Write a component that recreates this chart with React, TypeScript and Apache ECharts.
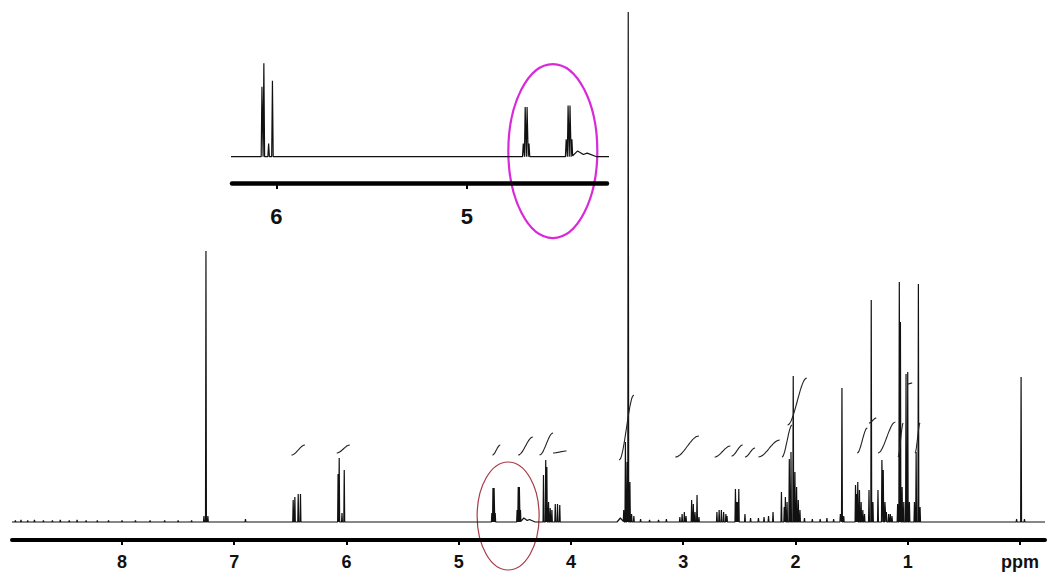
import React, { useEffect, useRef } from "react";
import * as echarts from "echarts";

// Chemical-shift ticks (ppm) for the full spectrum and the expanded inset
const mainTicks = [0, 1, 2, 3, 4, 5, 6, 7, 8];
const insetTicks = [5, 6];

// Peak lists: [shift in ppm, intensity, optional half-width in ppm]
type Peak = [number, number, number?];

const baselineNoise: Peak[] = [
  [8.95, 1.5], [8.9, 2], [8.84, 1.5], [8.78, 2], [8.7, 1.5], [8.62, 1.5],
  [8.55, 2], [8.47, 1.5], [8.4, 2], [8.32, 1.5], [8.22, 1.5], [8.12, 1.5],
  [8.0, 1.5], [7.88, 1.5], [7.75, 1.5], [7.62, 1.5], [7.5, 1.5], [7.38, 1.5],
];

const solventPeaks: Peak[] = [
  [7.27, 6], [7.252, 271], [7.235, 6], [6.9, 3],
];

const olefinicPeaks: Peak[] = [
  [6.475, 22], [6.46, 25], [6.43, 28], [6.41, 28],
  [6.075, 48], [6.065, 64], [6.04, 9], [6.02, 52],
];

const oxymethinePeaks: Peak[] = [
  [4.705, 9], [4.695, 34], [4.685, 34], [4.675, 9],
  [4.48, 12], [4.47, 35], [4.46, 35], [4.45, 12],
  [4.42, 4, 0.03], [4.37, 2.5, 0.05],
  [4.245, 47], [4.225, 62], [4.215, 55], [4.2, 20], [4.185, 14], [4.17, 12],
  [4.14, 18], [4.12, 18], [4.1, 17],
];

const methoxyPeaks: Peak[] = [
  [3.56, 4, 0.03], [3.53, 12], [3.515, 80], [3.5, 60], [3.49, 510],
  [3.475, 40], [3.46, 8], [3.44, 6],
  [3.38, 3], [3.3, 2], [3.22, 2], [3.15, 3],
];

const allylicPeaks: Peak[] = [
  [3.03, 5], [3.01, 8], [2.99, 10], [2.975, 6], [2.925, 22], [2.91, 18],
  [2.895, 10], [2.877, 27], [2.86, 5],
  [2.7, 10], [2.68, 12], [2.66, 12], [2.64, 10], [2.62, 8], [2.61, 6],
  [2.535, 33], [2.525, 20], [2.515, 20], [2.505, 33],
  [2.45, 8], [2.4, 4], [2.33, 4], [2.28, 5], [2.24, 6], [2.2, 10],
  [2.125, 30], [2.1, 15], [2.09, 25], [2.075, 20], [2.055, 63], [2.04, 70],
  [2.02, 146], [2.005, 50], [1.99, 35], [1.975, 22], [1.96, 12],
  [1.92, 4], [1.85, 3], [1.78, 3], [1.72, 4], [1.66, 3],
];

const aliphaticPeaks: Peak[] = [
  [1.6, 8], [1.586, 134], [1.57, 6],
  [1.465, 37], [1.455, 28], [1.445, 40], [1.43, 32], [1.415, 20], [1.4, 12], [1.385, 8],
  [1.345, 32], [1.325, 222], [1.31, 20],
  [1.265, 32], [1.23, 62], [1.218, 52], [1.203, 20], [1.19, 10], [1.17, 8],
  [1.155, 8], [1.14, 6],
  [1.09, 18], [1.075, 240], [1.065, 200], [1.05, 35], [1.035, 20],
  [1.015, 148], [1.0, 150], [0.985, 20],
  [0.94, 20], [0.925, 70], [0.905, 238], [0.89, 15],
];

const referencePeaks: Peak[] = [
  [0.03, 3], [-0.01, 145], [-0.04, 3],
];

// Integral traces: [from ppm, to ppm, start level, end level]
const integrals: [number, number, number, number][] = [
  [6.49, 6.37, 67, 77],
  [6.087, 5.97, 69, 77],
  [4.7, 4.63, 67, 77],
  [4.47, 4.34, 67, 85],
  [4.28, 4.16, 67, 89],
  [4.16, 4.04, 69, 71],
  [3.57, 3.44, 62, 127],
  [3.07, 2.86, 65, 86],
  [2.72, 2.58, 65, 76],
  [2.57, 2.47, 66, 77],
  [2.45, 2.36, 65, 74],
  [2.33, 2.14, 65, 82],
  [2.12, 2.03, 65, 97],
  [2.07, 1.9, 97, 144],
  [1.45, 1.36, 69, 94],
  [1.345, 1.28, 99, 104],
  [1.265, 1.11, 69, 100],
  [1.087, 1.04, 65, 99],
  [1.0, 0.96, 138, 139],
  [0.935, 0.89, 69, 99],
];

// Annotation ellipses centred on [ppm, level]
const mainMarkCentre: [number, number] = [4.56, 6];
const insetMarkCentre: [number, number] = [4.55, 3.9];

const DEFAULT_HW = 0.004;

const allPeaks: Peak[] = [
  ...baselineNoise,
  ...solventPeaks,
  ...olefinicPeaks,
  ...oxymethinePeaks,
  ...methoxyPeaks,
  ...allylicPeaks,
  ...aliphaticPeaks,
  ...referencePeaks,
];

// Sum of narrow triangular line shapes, evaluated at every breakpoint
function buildTrace(peaks: Peak[], lo: number, hi: number): [number, number][] {
  const xs = new Set<number>([lo, hi]);
  for (const [p, , w = DEFAULT_HW] of peaks) {
    xs.add(+(p - w).toFixed(5));
    xs.add(+p.toFixed(5));
    xs.add(+(p + w).toFixed(5));
  }
  const sorted = [...xs].filter((x) => x >= lo && x <= hi).sort((a, b) => a - b);
  return sorted.map((x) => {
    let y = 0;
    for (const [p, h, w = DEFAULT_HW] of peaks) {
      const d = Math.abs(x - p);
      if (d < w) y += h * (1 - d / w);
    }
    return [x, +y.toFixed(3)];
  });
}

// S-shaped running integral between two levels
function integralCurve([from, to, a, b]: [number, number, number, number]): [number, number][] {
  const steps = [0, 0.1, 0.2, 0.3, 0.4, 0.5, 0.6, 0.7, 0.8, 0.9, 1];
  return steps.map((t) => {
    const s = t * t * (3 - 2 * t);
    return [from + (to - from) * t, a + (b - a) * s];
  });
}

const FONT = "'Liberation Sans', Arial, sans-serif";

export default function App() {
  const ref = useRef<HTMLDivElement>(null);

  useEffect(() => {
    if (!ref.current) return;
    const chart = echarts.init(ref.current, null, { renderer: "svg" });

    const mainTrace = buildTrace(allPeaks, -0.223, 8.98);
    const insetTrace = buildTrace(allPeaks, 4.2, 6.3);

    const integralSeries = integrals.map((seg) => ({
      type: "line" as const,
      xAxisIndex: 0,
      yAxisIndex: 0,
      data: integralCurve(seg),
      showSymbol: false,
      smooth: true,
      silent: true,
      lineStyle: { color: "#222", width: 1.1 },
    }));

    chart.setOption({
      animation: false,
      backgroundColor: "#ffffff",
      grid: [
        { left: 12, right: 2, top: 10, bottom: 35 },
        { left: 232, right: 440, top: 63, bottom: 392 },
      ],
      xAxis: [
        {
          type: "value",
          gridIndex: 0,
          inverse: true,
          min: -0.223,
          max: 8.98,
          axisLine: { show: true, onZero: false, lineStyle: { color: "#000", width: 4 } },
          axisTick: {
            show: true,
            customValues: mainTicks,
            length: 5,
            lineStyle: { color: "#000", width: 2 },
          },
          axisLabel: {
            customValues: mainTicks,
            formatter: (v: number) => (v === 0 ? "ppm" : String(v)),
            fontFamily: FONT,
            fontWeight: "bold",
            fontSize: 18,
            color: "#111",
            margin: 13,
          },
          splitLine: { show: false },
        },
        {
          type: "value",
          gridIndex: 1,
          inverse: true,
          min: 4.266,
          max: 6.232,
          axisLine: { show: true, onZero: false, lineStyle: { color: "#000", width: 4.5 } },
          axisTick: {
            show: true,
            customValues: insetTicks,
            length: 6,
            lineStyle: { color: "#000", width: 2 },
          },
          axisLabel: {
            customValues: insetTicks,
            fontFamily: FONT,
            fontWeight: "bold",
            fontSize: 22,
            color: "#111",
            margin: 22,
          },
          splitLine: { show: false },
        },
      ],
      yAxis: [
        { type: "value", gridIndex: 0, min: -18, max: 512, show: false, splitLine: { show: false } },
        { type: "value", gridIndex: 1, min: -18, max: 64.2, show: false, splitLine: { show: false } },
      ],
      series: [
        {
          type: "line",
          xAxisIndex: 0,
          yAxisIndex: 0,
          data: mainTrace,
          showSymbol: false,
          silent: true,
          lineStyle: { color: "#111", width: 1.2 },
        },
        {
          type: "line",
          xAxisIndex: 1,
          yAxisIndex: 1,
          data: insetTrace,
          showSymbol: false,
          silent: true,
          clip: true,
          lineStyle: { color: "#111", width: 1.2 },
        },
        ...integralSeries,
      ],
    });

    const mc = chart.convertToPixel({ xAxisIndex: 0, yAxisIndex: 0 }, mainMarkCentre) as number[];
    const ic = chart.convertToPixel({ xAxisIndex: 1, yAxisIndex: 1 }, insetMarkCentre) as number[];

    chart.setOption({
      graphic: [
        {
          type: "ellipse",
          silent: true,
          shape: { cx: mc[0], cy: mc[1], rx: 31, ry: 54 },
          style: { fill: "none", stroke: "#a83a48", lineWidth: 1.2 },
        },
        {
          type: "ellipse",
          silent: true,
          shape: { cx: ic[0], cy: ic[1], rx: 44.5, ry: 87 },
          style: { fill: "none", stroke: "#d929d9", lineWidth: 2.2 },
        },
      ],
    });

    return () => chart.dispose();
  }, []);

  return (
    <div
      ref={ref}
      style={{ position: "fixed", left: 0, top: 0, width: 1047, height: 575, background: "#fff" }}
    />
  );
}
